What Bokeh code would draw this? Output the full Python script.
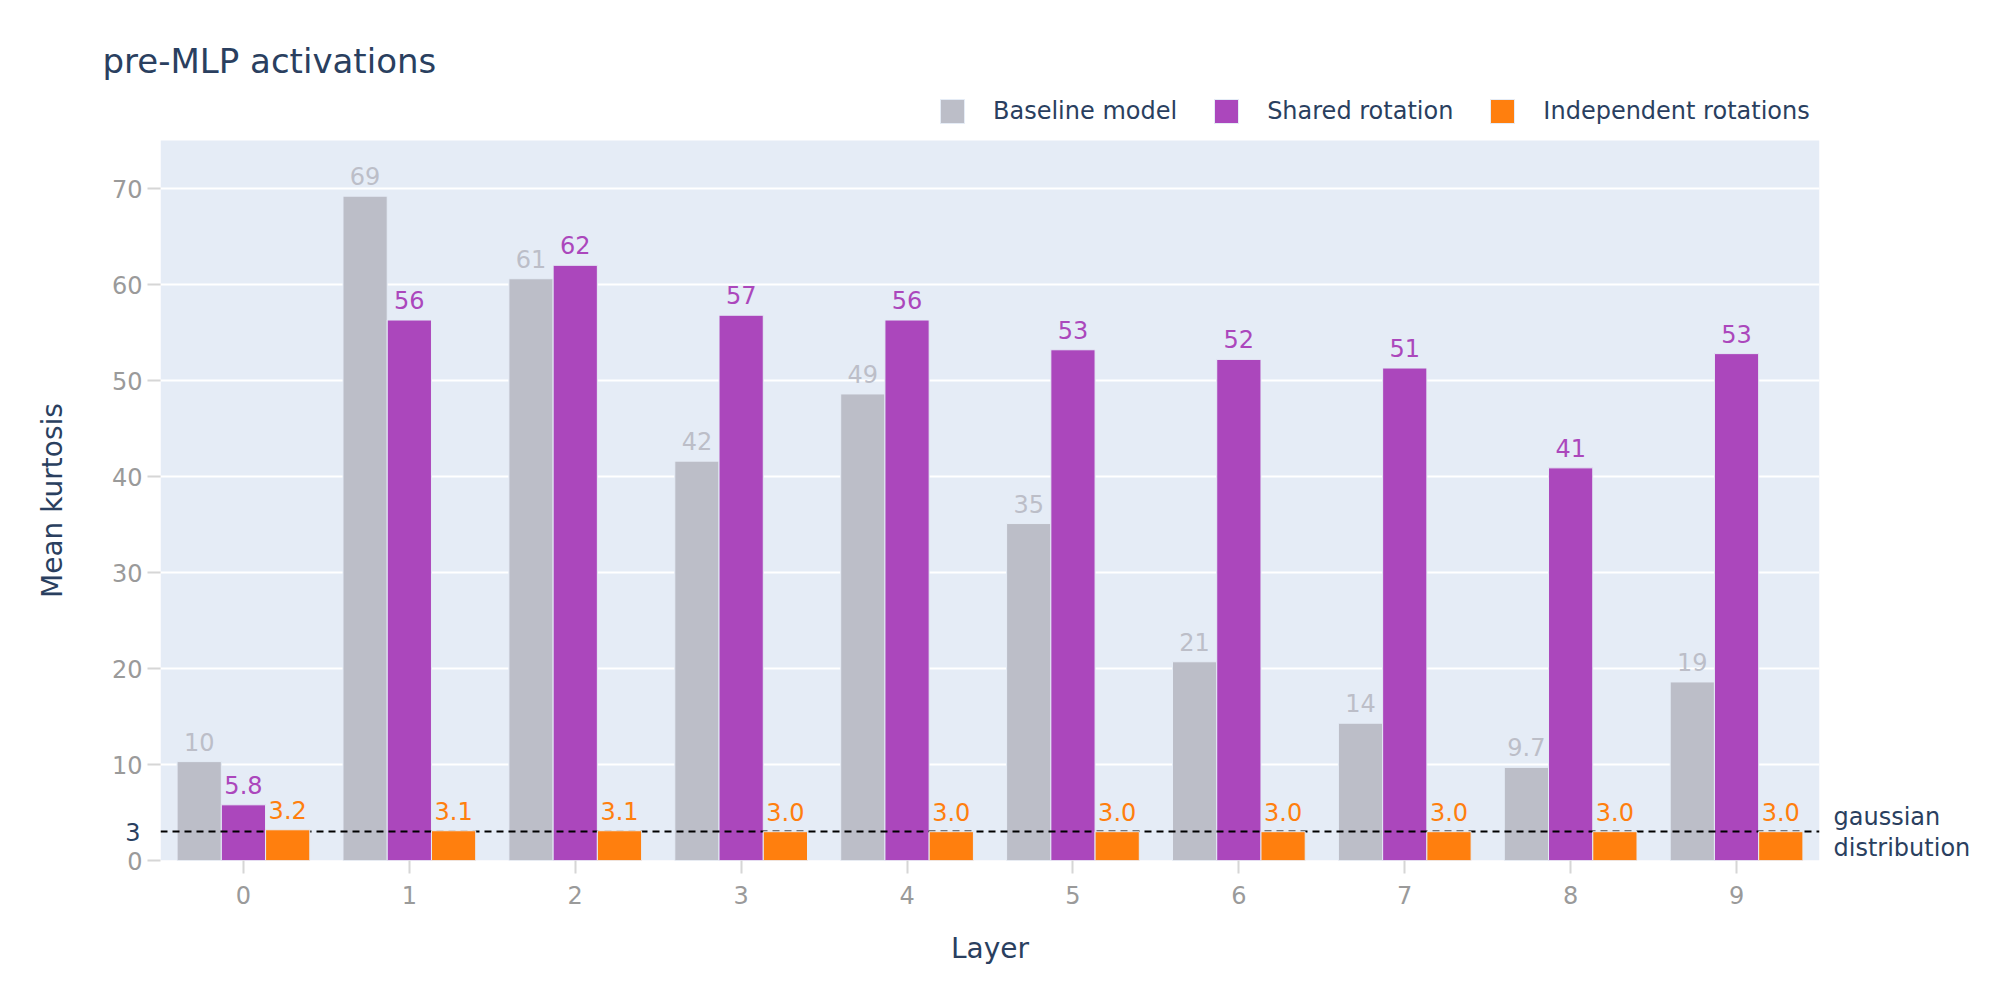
import math
from bokeh.plotting import figure
from bokeh.models import (Range1d, Label, Legend, LegendItem, ColumnDataSource,
                          FixedTicker, BoxAnnotation)
from bokeh.transform import dodge
from bokeh.core.properties import value
from bokeh.embed import file_html
from bokeh.resources import INLINE

# ---- data ----
layers = [0, 1, 2, 3, 4, 5, 6, 7, 8, 9]
baseline = [10.3, 69.2, 60.6, 41.6, 48.6, 35.1, 20.7, 14.3, 9.7, 18.6]
shared = [5.8, 56.3, 62.0, 56.8, 56.3, 53.2, 52.2, 51.3, 40.9, 52.8]
independent = [3.2, 3.1, 3.1, 3.0, 3.0, 3.0, 3.0, 3.0, 3.0, 3.0]
series_names = ["Baseline model", "Shared rotation", "Independent rotations"]
series_colors = ["#BCBEC8", "#AB47BC", "#FF7F0E"]
y_ticks = [0, 10, 20, 30, 40, 50, 60, 70]
gauss_level = 3
title_text = "pre-MLP activations"
x_title = "Layer"
y_title = "Mean kurtosis"
gauss_text = "gaussian\ndistribution"

FONT = "DejaVu Sans"
TXT = "#2A3F5F"
TICK = "#9A9A9A"

# plot-area extent (axis range); the frame extends above it to host the legend
Y_AREA_TOP = 75
PX_PER_UNIT = 9.6
FRAME_TOP, FRAME_BOTTOM = 91, 860
y_frame_max = (FRAME_BOTTOM - FRAME_TOP) / PX_PER_UNIT


def fmt(v):
    return f"{v:#.2g}".rstrip(".")


W, H = 1984, 984
p = figure(width=W, height=H, output_backend="svg", toolbar_location=None,
           x_range=Range1d(-0.5, 9.5), y_range=Range1d(0, y_frame_max),
           min_border_left=160, min_border_right=165,
           min_border_top=FRAME_TOP, min_border_bottom=H - FRAME_BOTTOM,
           title=title_text)
p.background_fill_color = "white"
p.border_fill_color = "white"
p.outline_line_color = None

# plot area background
area = BoxAnnotation(bottom=0, top=Y_AREA_TOP, fill_color="#E5ECF6",
                     fill_alpha=1, line_color=None, level="image")
p.add_layout(area)

p.title.text_font = FONT
p.title.text_font_size = "34px"
p.title.text_font_style = "normal"
p.title.text_color = TXT
p.title.align = "left"
p.title.offset = -58
p.title.standoff = 21

p.xgrid.grid_line_color = None
p.ygrid.grid_line_color = "white"
p.ygrid.grid_line_width = 2
p.yaxis.ticker = FixedTicker(ticks=y_ticks)
p.xaxis.ticker = FixedTicker(ticks=layers)
p.yaxis.bounds = (0, Y_AREA_TOP)

for ax in (p.xaxis, p.yaxis):
    ax.axis_line_color = None
    ax.major_tick_line_color = "#D6D6D6"
    ax.major_tick_line_width = 2
    ax.major_tick_in = 0
    ax.major_tick_out = 13
    ax.minor_tick_line_color = None
    ax.major_label_text_font = FONT
    ax.major_label_text_font_size = "24px"
    ax.major_label_text_color = TICK
    ax.axis_label_text_font = FONT
    ax.axis_label_text_font_size = "28px"
    ax.axis_label_text_color = TXT
    ax.axis_label_text_font_style = "normal"

p.xaxis.axis_label = x_title
p.xaxis.major_label_standoff = 12
p.xaxis.axis_label_standoff = 25
p.yaxis.major_label_standoff = 5

bw = 0.8 / 3
offsets = [-bw, 0.0, bw]
all_vals = [baseline, shared, independent]

sources = []
for vals in all_vals:
    sources.append(ColumnDataSource(dict(layer=layers, val=vals,
                                         lbl=[fmt(v) for v in vals])))

renderers = []
for i in (0, 1):
    r = p.vbar(x=dodge("layer", offsets[i], range=p.x_range), top="val",
               width=bw, bottom=0, source=sources[i],
               fill_color=series_colors[i], line_color="#E5ECF6", line_width=1)
    renderers.append(r)

# dashed gaussian reference line (drawn under the orange bars)
p.hspan(y=[gauss_level], line_color="black", line_width=2, line_dash="7 5")

r = p.vbar(x=dodge("layer", offsets[2], range=p.x_range), top="val",
           width=bw, bottom=0, source=sources[2],
           fill_color=series_colors[2], line_color="#E5ECF6", line_width=1)
renderers.append(r)

for i in range(3):
    p.text(x=dodge("layer", offsets[i], range=p.x_range), y="val", text="lbl",
           source=sources[i], text_align="center", text_baseline="alphabetic",
           y_offset=-20, text_font=value(FONT), text_font_size="24px",
           text_color=series_colors[i])

legend = Legend(items=[LegendItem(label=n, renderers=[rr])
                       for n, rr in zip(series_names, renderers)],
                orientation="horizontal", location=(777, 734),
                glyph_width=30, glyph_height=30, label_standoff=26,
                spacing=34, padding=0, margin=0,
                border_line_color=None, background_fill_alpha=0,
                label_text_font=FONT, label_text_font_size="24px",
                label_text_color=TXT)
p.add_layout(legend, "center")

# y axis title, centred on the plot area (0..Y_AREA_TOP)
p.add_layout(Label(x=-0.5, y=Y_AREA_TOP / 2, x_offset=-108, text=y_title,
                   angle=math.pi / 2, text_font=FONT, text_font_size="28px",
                   text_color=TXT, text_baseline="middle", text_align="center"),
             "left")
# '3' marker on the y axis
p.add_layout(Label(x=-0.5, y=gauss_level, x_offset=-20, text=str(gauss_level),
                   text_font=FONT, text_font_size="24px", text_color=TXT,
                   text_baseline="middle", text_align="right"), "left")
# gaussian distribution annotation
p.add_layout(Label(x=9.5, y=gauss_level, x_offset=14, y_offset=-1,
                   text=gauss_text, text_font=FONT, text_font_size="24px",
                   text_line_height=1.1,
                   text_color=TXT, text_baseline="middle", text_align="left"),
             "right")

open("out.html", "w").write(file_html(p, INLINE))
